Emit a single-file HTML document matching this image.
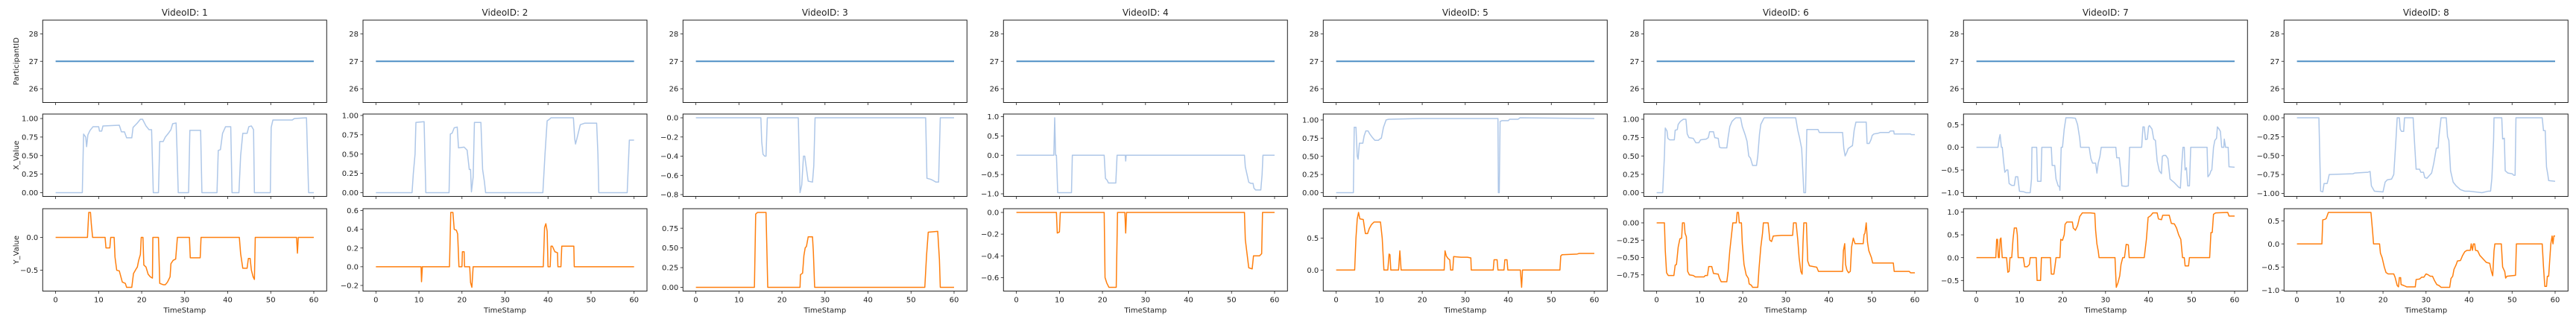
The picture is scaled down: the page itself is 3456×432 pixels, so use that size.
<!DOCTYPE html>
<html><head><meta charset="utf-8">
<style>
html,body{margin:0;padding:0;background:#fff;}
svg{display:block;font-family:"DejaVu Sans","Liberation Sans",sans-serif;}
</style></head>
<body>
<svg id="fig" width="3456" height="432" viewBox="0 0 3456 432" xmlns="http://www.w3.org/2000/svg"></svg>
<script>
const videoIds = [1,2,3,4,5,6,7,8];
const participantId = 27;
const xTickValues = [0,10,20,30,40,50,60];
const participantTicks = [26,27,28];
const xTicksX = [
 [0,0.25,0.5,0.75,1],[0,0.25,0.5,0.75,1],[0,-0.2,-0.4,-0.6,-0.8],[-1,-0.5,0,0.5,1],
 [0,0.25,0.5,0.75,1],[0,0.25,0.5,0.75,1],[-1,-0.5,0,0.5],[-1,-0.75,-0.5,-0.25,0]];
const xTicksDec = [2,2,1,1,2,2,1,2];
const yTicksY = [
 [-0.5,0],[-0.2,0,0.2,0.4,0.6],[0,0.25,0.5,0.75],[-0.6,-0.4,-0.2,0],
 [0,0.5],[-0.75,-0.5,-0.25,0],[-0.5,0,0.5,1],[-1,-0.5,0,0.5]];
const yTicksDec = [1,1,2,1,1,2,1,1];

const xSeries1 = [[0,0],[6.2,0],[6.5,0.79],[7.0,0.75],[7.2,0.62],[7.5,0.78],[8,0.84],[8.7,0.89],[10,0.89],[10.2,0.83],[10.7,0.83],[11,0.9],[14.8,0.91],[15.3,0.82],[16,0.82],[16.5,0.74],[17.7,0.74],[18,0.88],[19,0.94],[19.7,0.99],[20.2,0.99],[21,0.9],[21.7,0.85],[22.3,0.85],[22.7,0],[23.9,0],[24.2,0.69],[25,0.69],[25.5,0.75],[26.2,0.8],[26.8,0.85],[27.2,0.93],[28,0.94],[28.2,0.6],[28.5,0],[30.9,0],[31.2,0.84],[33.7,0.84],[34,0],[37.5,0],[37.8,0.57],[38.3,0.58],[38.8,0.8],[39.5,0.89],[40.7,0.89],[41,0],[42.6,0],[43,0.5],[43.5,0.8],[44.5,0.8],[44.9,0.89],[45.5,0.9],[46,0.85],[46.2,0],[49.9,0],[50.1,0.88],[50.5,0.98],[55,0.98],[55.5,1.0],[58.3,1.01],[58.8,0],[60,0]];
const ySeries1 = [[0,0],[7.4,0],[7.7,0.38],[8.1,0.38],[8.3,0.2],[8.6,0],[11.5,0],[11.7,-0.16],[12.6,-0.16],[12.8,0],[13.6,0],[13.8,-0.3],[14.2,-0.5],[14.8,-0.51],[15.5,-0.68],[16.2,-0.7],[16.5,-0.76],[17.7,-0.76],[18.1,-0.55],[18.8,-0.47],[19,-0.45],[19.3,-0.35],[19.7,-0.26],[19.9,0],[20.3,0],[20.5,-0.42],[21,-0.45],[21.5,-0.56],[22,-0.6],[22.5,-0.62],[22.6,0],[23.9,0],[24.2,-0.7],[25,-0.72],[25.5,-0.72],[26,-0.68],[26.6,-0.6],[26.8,-0.4],[27.3,-0.35],[27.9,-0.33],[28.3,0],[31.1,0],[31.3,-0.31],[33.6,-0.31],[33.8,0],[42.7,0],[43,-0.25],[43.5,-0.47],[44.5,-0.47],[44.8,-0.32],[45.2,-0.32],[45.5,-0.5],[45.9,-0.6],[46.2,-0.64],[46.4,0],[56,0],[56.2,-0.24],[56.4,0],[60,0]];
const xSeries2 = [[0,0],[8.4,0],[8.7,0.25],[9.1,0.5],[9.3,0.91],[11.2,0.92],[11.6,0],[17,0],[17.3,0.76],[17.7,0.77],[18.2,0.84],[18.9,0.85],[19.2,0.58],[20.5,0.59],[21.2,0.55],[21.7,0.3],[22,0.3],[22.2,0.01],[22.6,0.2],[22.9,0.91],[24.4,0.91],[24.8,0.3],[25.2,0.15],[25.5,0],[38.8,0],[39.3,0.5],[39.8,0.93],[40.3,0.95],[40.7,0.97],[45.9,0.97],[46.2,0.7],[46.4,0.63],[46.8,0.72],[47.5,0.88],[48.5,0.9],[51.3,0.9],[51.6,0.5],[51.8,0],[58.4,0],[58.9,0.68],[60,0.68]];
const ySeries2 = [[0,0],[10.5,0],[10.6,-0.16],[10.8,0],[17.1,0],[17.4,0.58],[17.9,0.58],[18.2,0.4],[18.7,0.39],[19,0.35],[19.3,0],[20,0],[20.1,0.16],[20.5,0.16],[20.6,0],[21.8,0],[22,-0.17],[22.3,-0.22],[22.6,0],[38.9,0],[39.2,0.42],[39.5,0.46],[39.8,0.38],[40,0],[40.5,0],[40.7,0.22],[41,0.22],[41.6,0.16],[42.2,0.15],[42.3,0],[43,0],[43.2,0.22],[46,0.22],[46.1,0],[60,0]];
const xSeries3 = [[0,0],[15.1,0],[15.3,-0.25],[15.6,-0.38],[16,-0.4],[16.3,-0.4],[16.6,0],[23.8,0],[24.2,-0.78],[24.6,-0.7],[25,-0.4],[25.3,-0.4],[25.6,-0.5],[26.1,-0.66],[27.1,-0.67],[27.4,-0.5],[27.7,0],[53.4,0],[53.7,-0.63],[54.5,-0.64],[55,-0.65],[55.8,-0.67],[56.4,-0.67],[56.8,0],[60,0]];
const ySeries3 = [[0,0],[13.6,0],[13.9,0.93],[14.3,0.95],[16.3,0.95],[16.7,0],[24.2,0],[24.3,0.16],[24.8,0.18],[25.1,0.4],[25.4,0.5],[25.7,0.52],[26.1,0.64],[27.1,0.64],[27.3,0.45],[27.6,0],[53.2,0],[53.6,0.4],[54,0.7],[56.2,0.71],[56.6,0.35],[56.8,0],[60,0]];
const xSeries4 = [[0,0],[8.7,0],[8.9,0.97],[9.1,0],[9.3,0],[9.6,-0.97],[12.8,-0.97],[13,0],[20.4,0],[20.7,-0.6],[21.1,-0.65],[21.4,-0.72],[23.1,-0.72],[23.4,0],[25.3,0],[25.4,-0.15],[25.5,0],[53,0],[53.2,-0.3],[53.6,-0.5],[54,-0.7],[54.5,-0.73],[55,-0.73],[55.2,-0.85],[55.6,-0.9],[56.8,-0.9],[57.1,-0.5],[57.3,0],[60,0]];
const ySeries4 = [[0,0],[9.3,0],[9.5,-0.19],[10,-0.18],[10.2,0],[20.4,0],[20.6,-0.6],[21,-0.65],[21.5,-0.69],[23.2,-0.69],[23.5,0],[25.2,0],[25.4,-0.19],[25.6,0],[53,0],[53.2,-0.25],[53.6,-0.38],[54,-0.51],[54.8,-0.52],[55.1,-0.4],[56.5,-0.4],[57,-0.38],[57.2,0],[60,0]];
const xSeries5 = [[0,0],[4,0],[4.2,0.9],[4.6,0.9],[4.9,0.5],[5.1,0.46],[5.4,0.68],[6.2,0.68],[6.5,0.78],[6.9,0.85],[7.4,0.85],[7.9,0.8],[8.4,0.76],[9,0.72],[9.8,0.72],[10.2,0.74],[10.5,0.75],[11,0.9],[11.6,1.0],[12.2,1.01],[20,1.02],[37.6,1.02],[37.7,0],[37.9,0],[38.1,0.98],[38.5,0.99],[40,0.99],[40.3,1.01],[42.3,1.01],[42.7,1.03],[60,1.02]];
const ySeries5 = [[0,0],[4.3,0],[4.6,0.5],[4.9,0.8],[5.2,0.9],[5.5,0.8],[6.3,0.79],[6.6,0.65],[6.8,0.57],[7.3,0.57],[7.7,0.65],[8.2,0.71],[8.8,0.75],[10.3,0.75],[10.7,0.5],[11.1,0],[12,0],[12.3,0.25],[12.5,0.24],[12.7,0],[14.5,0],[14.8,0.3],[15.1,0],[25.1,0],[25.3,0.3],[25.6,0.22],[26,0.18],[26.4,0.16],[26.6,0],[27.1,0],[27.3,0.21],[29,0.2],[30.5,0.2],[31.3,0.19],[31.4,0],[36.5,0],[36.7,0.16],[37.4,0.16],[37.6,0],[39,0],[39.2,0.16],[39.7,0.16],[39.9,0],[42.8,0],[43.1,-0.27],[43.3,0],[52,0],[52.2,0.22],[52.5,0.24],[56,0.25],[56.5,0.26],[60,0.26]];
const xSeries6 = [[0,0],[1.4,0],[1.8,0.5],[2.0,0.88],[2.4,0.84],[2.6,0.74],[3,0.72],[4.1,0.72],[4.3,0.85],[4.8,0.86],[5,0.93],[5.5,0.97],[6.2,1.0],[6.8,1.0],[7.1,0.8],[7.5,0.75],[8.5,0.74],[9.1,0.68],[9.8,0.68],[10.2,0.72],[11.5,0.73],[12,0.75],[12.3,0.83],[13.2,0.83],[13.5,0.75],[14.3,0.74],[14.6,0.62],[15,0.61],[16.3,0.61],[16.6,0.75],[17,0.9],[17.5,0.97],[18,1.0],[18.4,1.02],[19.5,1.02],[19.9,0.9],[20.5,0.8],[21,0.7],[21.4,0.5],[21.8,0.47],[22.3,0.37],[23.2,0.37],[23.5,0.5],[23.9,0.8],[24.2,0.93],[24.8,1.0],[25,1.02],[32.3,1.02],[32.8,0.85],[33.2,0.75],[33.7,0.6],[34,0.25],[34.2,0],[34.6,0],[34.9,0.86],[37.5,0.86],[37.8,0.82],[43.2,0.82],[43.5,0.6],[43.8,0.5],[44.2,0.55],[44.5,0.6],[45.2,0.63],[45.5,0.64],[45.9,0.85],[46.3,0.96],[48.7,0.96],[48.9,0.67],[49.4,0.67],[49.8,0.72],[50.1,0.78],[50.5,0.8],[51.5,0.81],[52,0.82],[54,0.82],[54.3,0.84],[55.1,0.84],[55.2,0.8],[59,0.8],[59.2,0.79],[60,0.79]];
const ySeries6 = [[0,0],[1.8,0],[2.0,-0.4],[2.3,-0.72],[2.7,-0.76],[4,-0.76],[4.3,-0.61],[4.6,-0.6],[5,-0.35],[5.4,-0.23],[5.8,-0.22],[6,0],[6.4,0],[6.6,-0.15],[6.9,-0.2],[7.2,-0.7],[7.6,-0.75],[8.5,-0.76],[9,-0.78],[11,-0.78],[11.3,-0.76],[11.8,-0.76],[12.1,-0.63],[12.8,-0.63],[13.2,-0.73],[14.3,-0.74],[14.6,-0.8],[15,-0.85],[16.3,-0.85],[16.6,-0.7],[17,-0.4],[17.4,-0.17],[17.7,0],[18.5,0],[18.7,0.15],[19,0.15],[19.2,0],[19.7,0],[19.9,-0.3],[20.3,-0.6],[20.8,-0.75],[21.3,-0.8],[21.5,-0.88],[22,-0.9],[22.3,-0.93],[23.5,-0.93],[23.8,-0.65],[24.2,-0.35],[24.6,-0.15],[24.8,0],[25.9,0],[26.3,-0.25],[26.7,-0.27],[27.1,-0.19],[29,-0.18],[31.6,-0.18],[31.8,0],[32.4,0],[32.8,-0.25],[33.1,-0.5],[33.5,-0.7],[33.8,-0.74],[34.0,-0.3],[34.2,0],[34.8,0],[35.1,-0.55],[35.5,-0.62],[37.2,-0.64],[37.6,-0.7],[43.2,-0.7],[43.4,-0.4],[43.7,-0.3],[43.9,-0.6],[44.2,-0.68],[44.6,-0.72],[45,-0.7],[45.3,-0.35],[45.7,-0.22],[46.1,-0.3],[48,-0.3],[48.2,-0.17],[48.4,-0.15],[48.7,0],[49,-0.28],[49.3,-0.4],[49.9,-0.5],[50.2,-0.58],[55,-0.58],[55.2,-0.7],[58.7,-0.7],[59,-0.72],[60,-0.72]];
const xSeries7 = [[0,0],[5,0],[5.3,0.2],[5.5,0.28],[5.8,0],[6,0],[6.3,-0.3],[6.6,-0.55],[7,-0.5],[7.3,-0.5],[7.6,-0.8],[8.2,-0.84],[8.8,-0.84],[9.1,-0.65],[9.6,-0.65],[10,-0.97],[11,-0.98],[11.5,-1.0],[12.5,-1.0],[12.8,-0.7],[12.9,0],[14,0],[14.2,-0.75],[15,-0.75],[15.2,0],[17.4,0],[17.6,-0.4],[18.2,-0.4],[18.5,-0.7],[19,-0.85],[19.3,-0.87],[19.4,-0.95],[19.7,0],[20,0],[20.4,0.4],[20.8,0.65],[22,0.65],[23,0.64],[23.5,0.5],[24,0.2],[24.2,0],[26.2,0],[26.6,-0.25],[27,-0.35],[27.7,-0.35],[28,-0.57],[28.3,-0.35],[28.7,-0.2],[29,0],[32.4,0],[32.6,-0.23],[33.2,-0.23],[33.5,-0.5],[33.8,-0.85],[34.7,-0.86],[35.3,-0.85],[35.6,0],[38.4,0],[38.7,0.45],[39,0.45],[39.3,0.17],[39.7,0.18],[40,0.45],[40.2,0.48],[40.8,0.4],[41.2,0.18],[41.6,0.15],[42,-0.3],[42.5,-0.52],[43,-0.58],[43.2,-0.2],[43.5,-0.18],[44,-0.18],[44.5,-0.25],[45,-0.7],[46,-0.78],[47,-0.88],[47.4,-0.9],[47.7,-0.4],[48,0],[48.3,0],[48.5,-0.5],[48.8,-0.45],[49.1,-0.85],[49.5,-0.85],[49.8,0],[53.6,0],[53.8,-0.65],[54.2,-0.6],[54.5,-0.52],[54.7,-0.5],[55.1,0],[55.4,0.15],[55.8,0.2],[56,0.45],[56.4,0.4],[56.7,0.35],[57,0],[57.5,0],[57.6,0.18],[57.9,0],[58.5,0],[58.7,-0.43],[60,-0.44]];
const ySeries7 = [[0,0],[4.5,0],[4.7,0.4],[4.9,0.4],[5.1,0],[5.3,0],[5.5,0.4],[5.7,0.43],[6,0],[7,0],[7.3,-0.32],[7.6,-0.3],[7.8,0],[8.2,0],[8.5,0.4],[8.8,0.65],[9.3,0.65],[9.5,0.5],[9.7,0],[10.9,0],[11.2,-0.2],[11.8,-0.2],[12.3,-0.15],[12.5,0],[13.9,0],[14.1,-0.5],[14.9,-0.5],[15.1,0],[17.2,0],[17.4,-0.36],[18,-0.36],[18.3,-0.15],[18.5,0],[19.4,0],[19.6,0.4],[20,0.38],[20.4,0.5],[20.6,0.73],[21,0.78],[22.3,0.78],[22.5,0.65],[23,0.6],[23.5,0.7],[24,0.9],[24.6,0.98],[26.5,0.98],[27.5,0.97],[27.7,0.6],[28,0.3],[28.3,0.15],[28.5,0],[32.2,0],[32.5,-0.65],[32.9,-0.55],[33.3,-0.4],[33.6,-0.15],[34,0],[34.4,0],[34.8,0.29],[35.3,0.28],[35.5,0],[39,0],[39.5,0.4],[39.9,0.88],[40.5,0.92],[41,0.98],[42,0.98],[42.3,0.85],[43,0.83],[43.3,0.93],[44.8,0.93],[45.3,0.75],[46,0.74],[46.5,0.65],[47,0.5],[47.5,0.4],[47.9,0],[48.3,0],[48.5,-0.18],[49.3,-0.18],[49.5,0],[54.2,0],[54.5,0.55],[54.8,0.55],[55.1,0.95],[55.6,0.98],[58.4,0.99],[58.7,0.91],[60,0.91]];
const xSeries8 = [[0,0],[5.1,0],[5.5,-0.97],[6,-0.98],[6.3,-0.87],[7,-0.87],[7.2,-0.83],[7.5,-0.75],[13,-0.74],[13.5,-0.73],[16.5,-0.72],[17,-0.71],[17.3,-0.9],[18,-0.97],[20,-0.98],[20.5,-0.85],[21,-0.82],[22,-0.81],[22.5,-0.75],[23,-0.3],[23.3,0],[23.8,0],[24,-0.15],[24.3,-0.18],[24.8,-0.18],[25,0],[27,0],[27.3,-0.3],[27.7,-0.68],[28.5,-0.68],[28.8,-0.72],[29.4,-0.72],[29.7,-0.79],[30.2,-0.8],[31.3,-0.73],[31.8,-0.6],[32.4,-0.4],[32.8,-0.4],[33,-0.25],[33.5,0],[34.7,0],[35,-0.25],[35.3,-0.3],[35.7,-0.7],[36.3,-0.85],[37,-0.9],[38,-0.95],[39,-0.97],[40,-0.97],[41.5,-0.98],[43,-0.99],[44.5,-0.97],[45,-0.97],[45.3,-0.8],[45.7,-0.3],[45.8,0],[47.6,0],[47.8,-0.28],[48.2,-0.27],[48.4,-0.7],[49,-0.73],[50,-0.74],[50.4,-0.76],[50.7,-0.76],[50.9,0],[57,0],[57.3,-0.17],[57.7,-0.17],[58,-0.65],[58.3,-0.75],[58.5,-0.83],[60,-0.84]];
const ySeries8 = [[0,0],[5.8,0],[6,0.52],[6.5,0.53],[6.8,0.55],[7.3,0.68],[17.2,0.68],[17.6,0.25],[17.8,0],[19.2,0],[19.4,-0.2],[19.8,-0.3],[20.3,-0.5],[20.7,-0.62],[21.2,-0.65],[22.5,-0.65],[22.8,-0.72],[23.3,-0.9],[23.6,-0.93],[23.8,-0.73],[24.1,-0.73],[24.2,-0.88],[24.8,-0.9],[25.5,-0.93],[27.5,-0.93],[27.7,-0.77],[28.5,-0.76],[29,-0.72],[29.5,-0.72],[30,-0.65],[30.5,-0.67],[31,-0.7],[31.5,-0.7],[32,-0.8],[32.5,-0.88],[33,-0.9],[33.5,-0.94],[35.5,-0.94],[35.8,-0.75],[36.2,-0.7],[36.5,-0.55],[37,-0.45],[37.3,-0.37],[38,-0.36],[38.5,-0.25],[39,-0.17],[39.5,-0.14],[40.3,-0.14],[40.5,0],[40.8,-0.14],[41,0],[41.3,0],[41.5,-0.14],[42,-0.15],[42.5,-0.25],[43,-0.3],[44,-0.4],[44.8,-0.42],[45.2,-0.6],[45.5,-0.69],[45.8,-0.15],[46,0],[47.5,0],[47.8,-0.5],[48.3,-0.6],[48.5,-0.74],[48.8,-0.7],[50.8,-0.68],[51,0],[57,0],[57.3,-0.5],[57.6,-0.92],[58,-0.92],[58.2,-0.7],[58.5,-0.7],[59,0],[59.3,0.17],[59.5,0],[59.7,0.17],[60,0.17]];

const xValueSeries = [xSeries1,xSeries2,xSeries3,xSeries4,xSeries5,xSeries6,xSeries7,xSeries8];
const yValueSeries = [ySeries1,ySeries2,ySeries3,ySeries4,ySeries5,ySeries6,ySeries7,ySeries8];

const NS = "http://www.w3.org/2000/svg";
const svg = document.getElementById('fig');
const colLeft = [57.3,487,916.3,1346.3,1775.3,2205.3,2634.3,3064.3];
const axW = 381;
const rowTop = [27,153,280];
const axH = 110.5;
const XMIN = -3, XMAX = 63;
function mk(tag, attrs, parent){const e=document.createElementNS(NS,tag);for(const k in attrs)e.setAttribute(k,attrs[k]);(parent||svg).appendChild(e);return e;}
function fmt(v,d){const s=Math.abs(v).toFixed(d);return (v<-1e-9?"\u2212":"")+s;}

function drawPanel(ci, ri, series, ylim, yticks, dec, color, width, opacity, name){
  const L=colLeft[ci], T=rowTop[ri];
  const g=mk('g',{});
  
  
  const sx=t=>L+(t-XMIN)/(XMAX-XMIN)*axW;
  const sy=v=>T+axH-(v-ylim[0])/(ylim[1]-ylim[0])*axH;
  const d=series.map((p,i)=>(i?'L':'M')+sx(p[0]).toFixed(2)+' '+sy(p[1]).toFixed(2)).join(' ');
  const path=mk('path',{d:d,fill:'none',stroke:color,'stroke-width':width,'stroke-opacity':opacity,'stroke-linejoin':'round'},g);
  
  
  const fr=mk('rect',{x:L,y:T,width:axW,height:axH,fill:'none',stroke:'#222','stroke-width':1},g);
  
  
  yticks.forEach(v=>{
    const y=sy(v);
    mk('line',{x1:L-3.5,x2:L,y1:y,y2:y,stroke:'#222','stroke-width':0.8},g);
    const tx=mk('text',{x:L-6,y:y+3.6,'font-size':10,'text-anchor':'end',fill:'#222'},g);
    tx.textContent=fmt(v,dec);
    
    
  });
  xTickValues.forEach(v=>{
    const x=sx(v);
    mk('line',{x1:x,x2:x,y1:T+axH,y2:T+axH+3.5,stroke:'#222','stroke-width':0.8},g);
    if(ri===2){
      const tx=mk('text',{x:x,y:T+axH+15,'font-size':10,'text-anchor':'middle',fill:'#222'},g);
      tx.textContent=String(v);
      
      
    }
  });
  if(ri===2){
    const xl=mk('text',{x:L+axW/2,y:T+axH+29,'font-size':10,'text-anchor':'middle',fill:'#222'},g);
    xl.textContent='TimeStamp';
    
    
  }
  if(ri===0){
    const tt=mk('text',{x:L+axW/2,y:T-6,'font-size':12,'text-anchor':'middle',fill:'#222'},g);
    tt.textContent='VideoID: '+videoIds[ci];
    
    
  }
  return g;
}
function autoLim(series){
  let mn=Infinity,mx=-Infinity;series.forEach(p=>{mn=Math.min(mn,p[1]);mx=Math.max(mx,p[1]);});
  const m=(mx-mn)*0.05;return [mn-m,mx+m];
}
const yLabels=['ParticipantID','X_Value','Y_Value'];
videoIds.forEach((vid,ci)=>{
  const pSeries=[[0,participantId],[60,participantId]];
  drawPanel(ci,0,pSeries,[participantId-1.5,participantId+1.5],participantTicks,0,'#4f8fc6',2,1,'participant');
  drawPanel(ci,1,xValueSeries[ci],autoLim(xValueSeries[ci]),xTicksX[ci],xTicksDec[ci],'#aec7e8',1.5,1,'x-value');
  drawPanel(ci,2,yValueSeries[ci],autoLim(yValueSeries[ci]),yTicksY[ci],yTicksDec[ci],'#ff7f0e',1.5,1,'y-value');
});
yLabels.forEach((lab,ri)=>{
  const cy=rowTop[ri]+axH/2;
  const t=mk('text',{x:0,y:0,'font-size':10,'text-anchor':'middle',fill:'#222',transform:'translate(25,'+cy+') rotate(-90)'});
  t.textContent=lab;
  
  
});
</script>
</body></html>
